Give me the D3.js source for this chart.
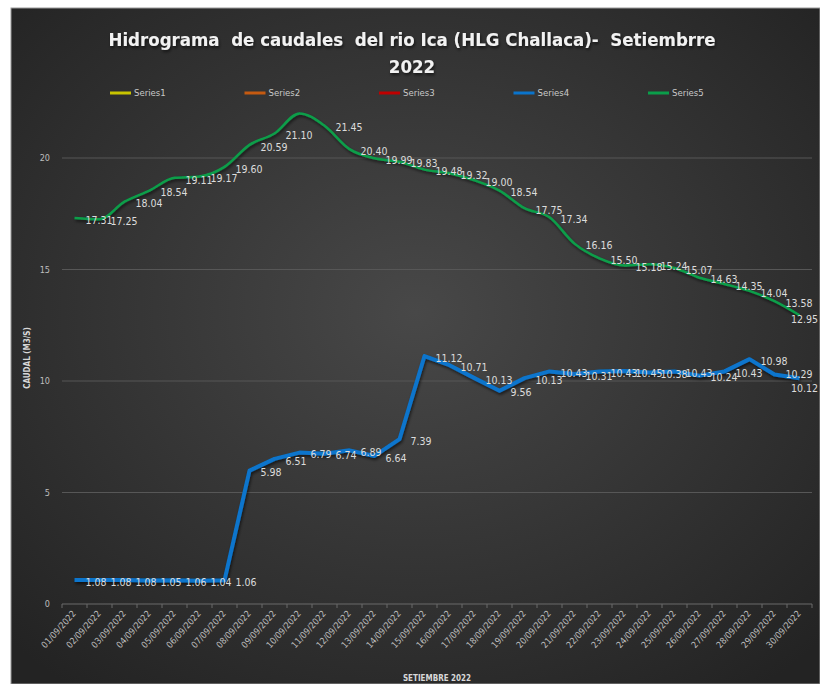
<!DOCTYPE html>
<html>
<head>
<meta charset="utf-8">
<script src="https://cdn.jsdelivr.net/npm/d3@7"></script>
<style>
  body { margin: 0; background: #fff; }
  svg { display: block; font-family: "Liberation Sans Narrow", "DejaVu Sans Condensed", "Roboto", sans-serif; }
  .grid line { stroke: #575757; stroke-width: 1; }
  .tick-label { fill: #bdbdbd; font-size: 9px; }
  .dlabel { fill: #dcdcdc; font-size: 10.5px; }
</style>
</head>
<body>
<svg width="820" height="684"></svg>
<script>
// Dates (categories)
var dias = [];
for (var i = 1; i <= 30; i++) {
  dias.push((i < 10 ? '0' + i : '' + i) + '/09/2022');
}

// Series4 (caudal)
var series4 = [1.08, 1.08, 1.08, 1.05, 1.06, 1.04, 1.06, 5.98, 6.51, 6.79,
  6.74, 6.89, 6.64, 7.39, 11.12, 10.71, 10.13, 9.56, 10.13, 10.43,
  10.31, 10.43, 10.45, 10.38, 10.43, 10.24, 10.43, 10.98, 10.29, 10.12];

// Series5 (caudal) - peak on 10/09 has no label in the original
var series5 = [17.31, 17.25, 18.04, 18.54, 19.11, 19.17, 19.60, 20.59, 21.10, 22.00,
  21.45, 20.40, 19.99, 19.83, 19.48, 19.32, 19.00, 18.54, 17.75, 17.34,
  16.16, 15.50, 15.18, 15.24, 15.07, 14.63, 14.35, 14.04, 13.58, 12.95];
var series5NoLabel = [9];

var yTicks = [0, 5, 10, 15, 20];

var legendNames = ['Series1', 'Series2', 'Series3', 'Series4', 'Series5'];
var legendColors = ['#c8c400', '#c55a11', '#c00000', '#0a74cc', '#0a9e4a'];

var svg = d3.select('svg');

// background
var defs = svg.append('defs');
var grad = defs.append('radialGradient')
  .attr('id', 'bg')
  .attr('cx', '50%').attr('cy', '45%').attr('r', '70%');
grad.append('stop').attr('offset', '0%').attr('stop-color', '#484848');
grad.append('stop').attr('offset', '100%').attr('stop-color', '#232323');

var shadow = defs.append('filter').attr('id', 'shadow')
  .attr('x', '-5%').attr('y', '-5%').attr('width', '110%').attr('height', '120%');
shadow.append('feDropShadow')
  .attr('dx', 1).attr('dy', 2).attr('stdDeviation', 1.5)
  .attr('flood-color', '#000').attr('flood-opacity', 0.6);

svg.append('rect')
  .attr('x', 11).attr('y', 8)
  .attr('width', 809).attr('height', 676)
  .attr('fill', 'url(#bg)')
  .attr('stroke', '#9a9a9a')
  .attr('stroke-width', 1);

// scales
var x = d3.scaleBand()
  .domain(dias)
  .range([62, 812]);

var y = d3.scaleLinear()
  .domain([0, 25])
  .range([604, 46.5]);

function cx(d, i) { return x(dias[i]) + x.bandwidth() / 2; }

// gridlines
svg.append('g').attr('class', 'grid')
  .selectAll('line')
  .data(yTicks.slice(1))
  .enter()
  .append('line')
  .attr('x1', 62).attr('x2', 812)
  .attr('y1', function(d) { return y(d); })
  .attr('y2', function(d) { return y(d); });

// y tick labels
svg.append('g')
  .selectAll('text')
  .data(yTicks)
  .enter()
  .append('text')
  .attr('class', 'tick-label')
  .attr('x', 50)
  .attr('y', function(d) { return y(d); })
  .attr('dy', '0.35em')
  .attr('text-anchor', 'end')
  .text(function(d) { return d; });

// x axis
var xAxis = svg.append('g');
xAxis.append('line')
  .attr('x1', 62).attr('x2', 812)
  .attr('y1', 604).attr('y2', 604)
  .attr('stroke', '#6a6a6a');

xAxis.selectAll('line.xt')
  .data(d3.range(31))
  .enter()
  .append('line')
  .attr('class', 'xt')
  .attr('x1', function(d) { return 62 + d * x.step(); })
  .attr('x2', function(d) { return 62 + d * x.step(); })
  .attr('y1', 604).attr('y2', 608)
  .attr('stroke', '#6a6a6a');

xAxis.selectAll('text')
  .data(dias)
  .enter()
  .append('text')
  .attr('class', 'tick-label')
  .attr('text-anchor', 'end')
  .attr('transform', function(d) {
    return 'translate(' + (x(d) + x.bandwidth() / 2 + 2) + ',614) rotate(-48)';
  })
  .text(function(d) { return d; });

// axis titles
svg.append('text')
  .attr('x', 437).attr('y', 681)
  .attr('text-anchor', 'middle')
  .attr('fill', '#d8d8d8')
  .style('font-size', '8px')
  .style('font-weight', 'bold')
  .text('SETIEMBRE 2022');

svg.append('text')
  .attr('transform', 'translate(30,358) rotate(-90)')
  .attr('text-anchor', 'middle')
  .attr('fill', '#d8d8d8')
  .style('font-size', '8px')
  .style('font-weight', 'bold')
  .text('CAUDAL (M3/S)');

// title
var title = svg.append('g')
  .attr('fill', '#f2f2f2')
  .style('font-size', '18.5px')
  .style('font-weight', 'bold')
  .attr('filter', 'url(#shadow)');
title.append('text')
  .attr('x', 412).attr('y', 46)
  .attr('text-anchor', 'middle')
  .style('white-space', 'pre')
  .text('Hidrograma  de caudales  del rio Ica (HLG Challaca)-  Setiembrre');
title.append('text')
  .attr('x', 412).attr('y', 73)
  .attr('text-anchor', 'middle')
  .text('2022');

// legend
var legend = svg.append('g')
  .selectAll('g')
  .data(legendNames)
  .enter()
  .append('g')
  .attr('transform', function(d, i) { return 'translate(' + (110 + i * 134.5) + ',93)'; });

legend.append('line')
  .attr('x1', 0).attr('x2', 21)
  .attr('y1', 0).attr('y2', 0)
  .attr('stroke', function(d, i) { return legendColors[i]; })
  .attr('stroke-width', 3);

legend.append('text')
  .attr('x', 24).attr('dy', '0.35em')
  .attr('fill', '#c8c8c8')
  .style('font-size', '9.5px')
  .text(function(d) { return d; });

// lines
var line5 = d3.line()
  .x(cx)
  .y(function(d) { return y(d); })
  .curve(d3.curveMonotoneX);

var line4 = d3.line()
  .x(cx)
  .y(function(d) { return y(d); });

svg.append('path')
  .datum(series5)
  .attr('fill', 'none')
  .attr('stroke', legendColors[4])
  .attr('stroke-width', 2.5)
  .attr('filter', 'url(#shadow)')
  .attr('d', line5);

svg.append('path')
  .datum(series4)
  .attr('fill', 'none')
  .attr('stroke', legendColors[3])
  .attr('stroke-width', 4)
  .attr('stroke-linejoin', 'round')
  .attr('filter', 'url(#shadow)')
  .attr('d', line4);

// data labels (last one pushed in so it stays inside the chart)
function labelX(d, i) { return i === dias.length - 1 ? 818 : cx(d, i) + 11; }
function labelAnchor(d, i) { return i === dias.length - 1 ? 'end' : 'start'; }

svg.append('g')
  .selectAll('text')
  .data(series5)
  .enter()
  .append('text')
  .attr('class', 'dlabel')
  .attr('x', labelX)
  .attr('y', function(d, i) { return y(d) + (i === dias.length - 1 ? 4 : 2); })
  .attr('dy', '0.35em')
  .attr('text-anchor', labelAnchor)
  .text(function(d, i) { return series5NoLabel.indexOf(i) < 0 ? d.toFixed(2) : ''; });

svg.append('g')
  .selectAll('text')
  .data(series4)
  .enter()
  .append('text')
  .attr('class', 'dlabel')
  .attr('x', labelX)
  .attr('y', function(d, i) { return y(d) + (i === dias.length - 1 ? 10 : (i === dias.length - 2 ? 0 : 2)); })
  .attr('dy', '0.35em')
  .attr('text-anchor', labelAnchor)
  .text(function(d) { return d.toFixed(2); });
</script>
</body>
</html>
